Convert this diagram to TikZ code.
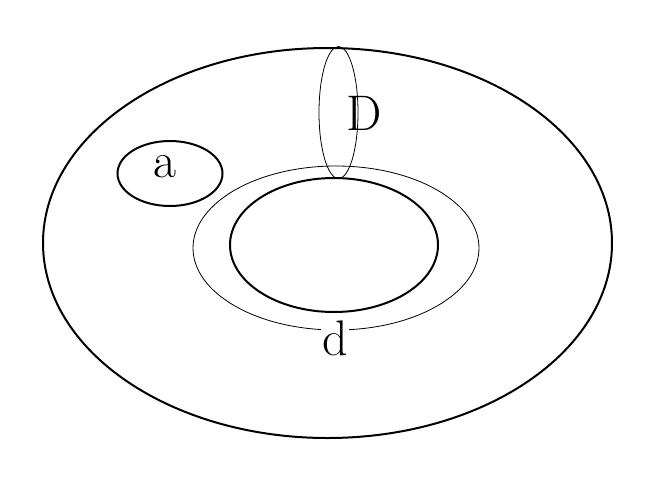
\documentclass[tikz,border=0pt]{standalone}
\usepackage{tikz}
\tikzset{
	thick line/.style={line width=2},
	thin line/.style={line width=0.8},
	big label/.style={font=\fontsize{50}{58}\selectfont,inner sep=1pt}
}
\begin{document}
\begin{tikzpicture}[x=1pt,y=-1pt]
		\useasboundingbox (0,0) rectangle (661,493);
		\coordinate (O) at (327.5,243);
		\coordinate (H) at (334,245);
		\coordinate (C) at (336,248);
		\coordinate (A) at (170,173.5);
		\coordinate (M) at (338.5,112.5);
		\draw [thick line] (O) ellipse (284.5 and 195);
		\draw [thick line] (H) ellipse (104 and 67);
		\draw [thin line] (C) ellipse (143 and 82);
		\draw [thick line] (A) ellipse (52.5 and 32.5);
		\draw [thin line] (M) ellipse (19.5 and 66);
		\node[big label] (a) at (165,167) {a};
		\node[big label] (D) at (364,113) {D};
		\node[big label,fill=white] (d) at (335,338) {d};
	\end{tikzpicture}
\end{document}
